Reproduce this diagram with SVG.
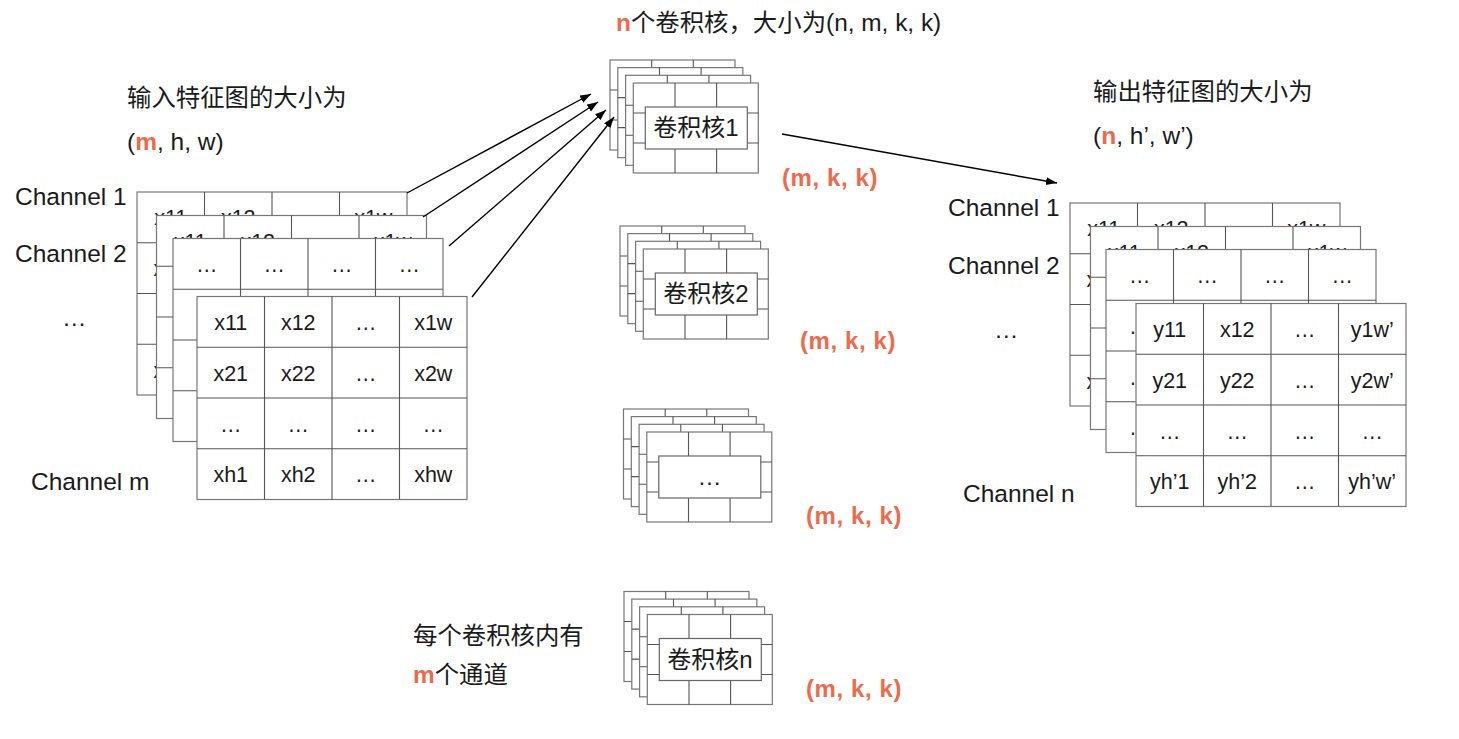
<svg xmlns="http://www.w3.org/2000/svg" xmlns:xlink="http://www.w3.org/1999/xlink" width="1459" height="739" viewBox="0 0 1459 739">
<style>
text{font-family:"Liberation Sans","Noto Sans CJK SC",sans-serif;fill:#1a1a1a}
.lbl{font-size:24.5px}
.cjk{font-size:24.4px}
.cell{font-size:21.5px;text-anchor:middle}
.or{fill:#EE6A4C}
.orb{fill:#EE6A4C;font-weight:bold;font-size:24px;letter-spacing:0.6px}
.g{fill:#fff;stroke:#777;stroke-width:1.2}
.gl{fill:none;stroke:#555;stroke-width:1.1}
.box{fill:#fff;stroke:#666;stroke-width:1.2}
.ktx{font-size:24px;text-anchor:middle}
.arr{fill:none;stroke:#000;stroke-width:1.4}
</style>
<defs>
<marker id="ah" markerUnits="userSpaceOnUse" markerWidth="12" markerHeight="9" refX="11" refY="4" orient="auto">
<path d="M0,0 L11,4 L0,8 z" fill="#000"/>
</marker>
<g id="cells">
<rect class="g" x="0" y="0" width="270" height="203"/>
<path class="gl" d="M67.5,0V203M135,0V203M202.5,0V203M0,50.75H270M0,101.5H270M0,152.25H270"/>
</g>
<g id="xtext">
<text class="cell" x="33.75" y="33">x11</text><text class="cell" x="101.25" y="33">x12</text><text class="cell" x="168.75" y="33">…</text><text class="cell" x="236.25" y="33">x1w</text>
<text class="cell" x="33.75" y="84">x21</text><text class="cell" x="101.25" y="84">x22</text><text class="cell" x="168.75" y="84">…</text><text class="cell" x="236.25" y="84">x2w</text>
<text class="cell" x="33.75" y="135">…</text><text class="cell" x="101.25" y="135">…</text><text class="cell" x="168.75" y="135">…</text><text class="cell" x="236.25" y="135">…</text>
<text class="cell" x="33.75" y="185.5">xh1</text><text class="cell" x="101.25" y="185.5">xh2</text><text class="cell" x="168.75" y="185.5">…</text><text class="cell" x="236.25" y="185.5">xhw</text>
</g>
<g id="dtext">
<text class="cell" x="33.75" y="33">…</text><text class="cell" x="101.25" y="33">…</text><text class="cell" x="168.75" y="33">…</text><text class="cell" x="236.25" y="33">…</text>
<text class="cell" x="33.75" y="84">…</text><text class="cell" x="101.25" y="84">…</text><text class="cell" x="168.75" y="84">…</text><text class="cell" x="236.25" y="84">…</text>
<text class="cell" x="33.75" y="135">…</text><text class="cell" x="101.25" y="135">…</text><text class="cell" x="168.75" y="135">…</text><text class="cell" x="236.25" y="135">…</text>
<text class="cell" x="33.75" y="185.5">…</text><text class="cell" x="101.25" y="185.5">…</text><text class="cell" x="168.75" y="185.5">…</text><text class="cell" x="236.25" y="185.5">…</text>
</g>
<g id="ytext">
<text class="cell" x="33.75" y="33">y11</text><text class="cell" x="101.25" y="33">x12</text><text class="cell" x="168.75" y="33">…</text><text class="cell" x="236.25" y="33">y1w’</text>
<text class="cell" x="33.75" y="84">y21</text><text class="cell" x="101.25" y="84">y22</text><text class="cell" x="168.75" y="84">…</text><text class="cell" x="236.25" y="84">y2w’</text>
<text class="cell" x="33.75" y="135">…</text><text class="cell" x="101.25" y="135">…</text><text class="cell" x="168.75" y="135">…</text><text class="cell" x="236.25" y="135">…</text>
<text class="cell" x="33.75" y="185.5">yh’1</text><text class="cell" x="101.25" y="185.5">yh’2</text><text class="cell" x="168.75" y="185.5">…</text><text class="cell" x="236.25" y="185.5">yh’w’</text>
</g>
<g id="klayer">
<rect class="g" x="0" y="0" width="125" height="90"/>
<path class="gl" d="M41.7,0V90M83.3,0V90M0,30H125M0,60H125"/>
</g>
<g id="kstack">
<use xlink:href="#klayer" x="0" y="0"/>
<use xlink:href="#klayer" x="7.8" y="7.6"/>
<use xlink:href="#klayer" x="15.6" y="15.3"/>
<use xlink:href="#klayer" x="23.3" y="23"/>
<rect class="box" x="35.3" y="47" width="102" height="42"/>
</g>
</defs>

<g id="input-label">
<text class="cjk" x="127" y="106">输入特征图的大小为</text>
<text class="lbl" x="127" y="150">(<tspan class="or" font-weight="bold">m</tspan>, h, w)</text>
</g>
<g id="input-channels">
<text class="lbl" x="15" y="205">Channel 1</text>
<text class="lbl" x="15" y="262">Channel 2</text>
<text class="lbl" x="62" y="326">…</text>
<text class="lbl" x="31" y="490">Channel m</text>
</g>
<g id="input-map">
<g transform="translate(137,192)"><use xlink:href="#cells"/><use xlink:href="#xtext"/></g>
<g transform="translate(156.5,215.5)"><use xlink:href="#cells"/><use xlink:href="#xtext"/></g>
<g transform="translate(173,238.5)"><use xlink:href="#cells"/><use xlink:href="#dtext"/></g>
<g transform="translate(197,296.5)"><use xlink:href="#cells"/><use xlink:href="#xtext"/></g>
</g>

<g id="kernels-title">
<text class="cjk" x="616" y="31" font-size="25"><tspan class="or" font-weight="bold">n</tspan>个卷积核，大小为(n, m, k, k)</text>
</g>
<g id="kernel-1">
<use xlink:href="#kstack" x="610" y="60"/>
<text class="ktx" x="696" y="136">卷积核1</text>
<text class="orb" x="782" y="186">(m, k, k)</text>
</g>
<g id="kernel-2">
<use xlink:href="#kstack" x="620" y="226"/>
<text class="ktx" x="706" y="302">卷积核2</text>
<text class="orb" x="800" y="349">(m, k, k)</text>
</g>
<g id="kernel-3">
<use xlink:href="#kstack" x="623.5" y="409"/>
<text class="ktx" x="709.5" y="485">…</text>
<text class="orb" x="806" y="524">(m, k, k)</text>
</g>
<g id="kernel-n">
<use xlink:href="#kstack" x="624" y="591.5"/>
<text class="ktx" x="710" y="667.5">卷积核n</text>
<text class="orb" x="806" y="697">(m, k, k)</text>
</g>
<g id="kernel-note">
<text class="cjk" x="413" y="644">每个卷积核内有</text>
<text class="cjk" x="413" y="683"><tspan class="or" font-weight="bold">m</tspan>个通道</text>
</g>

<g id="output-label">
<text class="cjk" x="1093" y="100">输出特征图的大小为</text>
<text class="lbl" x="1093" y="144">(<tspan class="or" font-weight="bold">n</tspan>, h’, w’)</text>
</g>
<g id="output-channels">
<text class="lbl" x="948" y="216">Channel 1</text>
<text class="lbl" x="948" y="274">Channel 2</text>
<text class="lbl" x="994" y="338">…</text>
<text class="lbl" x="963" y="502">Channel n</text>
</g>
<g id="output-map">
<g transform="translate(1070,203)"><use xlink:href="#cells"/><use xlink:href="#xtext"/></g>
<g transform="translate(1090.5,226.5)"><use xlink:href="#cells"/><use xlink:href="#xtext"/></g>
<g transform="translate(1106,249.5)"><use xlink:href="#cells"/><use xlink:href="#dtext"/></g>
<g transform="translate(1136,303.5)"><use xlink:href="#cells"/><use xlink:href="#ytext"/></g>
</g>

<g id="connectors">
<line class="arr" x1="407" y1="193" x2="591" y2="94" marker-end="url(#ah)"/>
<line class="arr" x1="423" y1="217" x2="598" y2="102" marker-end="url(#ah)"/>
<line class="arr" x1="449" y1="246" x2="606" y2="110" marker-end="url(#ah)"/>
<line class="arr" x1="472" y1="297" x2="614" y2="117" marker-end="url(#ah)"/>
<line class="arr" x1="782" y1="134" x2="1057" y2="183" marker-end="url(#ah)"/>
</g>
</svg>
